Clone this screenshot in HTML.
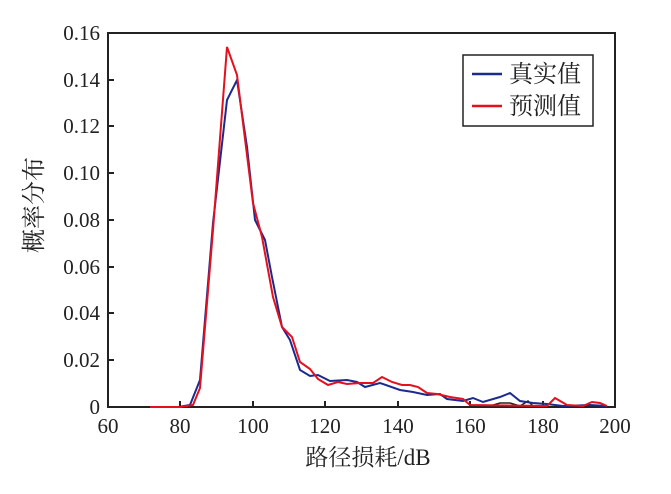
<!DOCTYPE html>
<html><head><meta charset="utf-8"><style>
body{margin:0;background:#fff}
text{font-family:"Liberation Serif","Noto Serif CJK SC",serif;fill:#222}
</style></head><body>
<svg width="671" height="489" viewBox="0 0 671 489">
<rect x="108" y="33" width="507" height="374" fill="none" stroke="#222" stroke-width="2"/>
<g stroke="#222" stroke-width="2">
<line x1="180" y1="407" x2="180" y2="401"/><line x1="253" y1="407" x2="253" y2="401"/><line x1="325" y1="407" x2="325" y2="401"/><line x1="398" y1="407" x2="398" y2="401"/><line x1="470" y1="407" x2="470" y2="401"/><line x1="543" y1="407" x2="543" y2="401"/>
<line x1="108" y1="360" x2="114" y2="360"/><line x1="108" y1="313" x2="114" y2="313"/><line x1="108" y1="267" x2="114" y2="267"/><line x1="108" y1="220" x2="114" y2="220"/><line x1="108" y1="173" x2="114" y2="173"/><line x1="108" y1="126" x2="114" y2="126"/><line x1="108" y1="80" x2="114" y2="80"/>
</g>
<g font-size="21" text-anchor="end">
<text x="100" y="414">0</text><text x="100" y="367">0.02</text><text x="100" y="320">0.04</text><text x="100" y="274">0.06</text><text x="100" y="227">0.08</text><text x="100" y="180">0.10</text><text x="100" y="133">0.12</text><text x="100" y="87">0.14</text><text x="100" y="40">0.16</text>
</g>
<g font-size="21" text-anchor="middle">
<text x="108" y="433">60</text><text x="180" y="433">80</text><text x="253" y="433">100</text><text x="325" y="433">120</text><text x="398" y="433">140</text><text x="470" y="433">160</text><text x="543" y="433">180</text><text x="615" y="433">200</text>
</g>
<text x="368" y="465" font-size="23" text-anchor="middle">路径损耗/dB</text>
<text font-size="24" text-anchor="middle" transform="translate(42,205) rotate(-90)">概率分布</text>
<polyline fill="none" stroke="#222" stroke-width="1.5" points="490,406 500,403 510,403 520,406 528,401 533,406"/>
<polyline fill="none" stroke="#1a2a8f" stroke-width="2" points="150,407 178,407 190,405 200,380 213,223 227,100 237,80 247,147 255,220 265,240 272,277 282,327 290,340 300,370 310,376 318,375 330,381 347,380 357,382 365,387 380,383 400,390 413,392 427,395 440,394 447,399 463,401 473,398 483,402 500,397 510,393 520,401 533,403 547,404 563,406 590,405 607,406"/>
<polyline fill="none" stroke="#e3101e" stroke-width="2" points="150,407 180,407 193,405 200,388 213,230 227,47 237,75 253,203 262,237 273,297 282,327 292,337 300,362 310,369 318,379 328,385 338,382 347,384 360,383 373,383 382,377 392,382 402,385 410,385 418,387 427,393 437,394 450,397 463,399 470,405 547,406 555,398 567,405 583,406 592,402 600,403 607,406"/>
<rect x="463" y="55" width="130" height="71" fill="#fff" stroke="#222" stroke-width="1.5"/>
<line x1="472" y1="74" x2="502" y2="74" stroke="#1a2a8f" stroke-width="2.5"/>
<line x1="472" y1="106" x2="502" y2="106" stroke="#e3101e" stroke-width="2.5"/>
<text x="509" y="82" font-size="24">真实值</text>
<text x="509" y="114" font-size="24">预测值</text>
</svg>
</body></html>
